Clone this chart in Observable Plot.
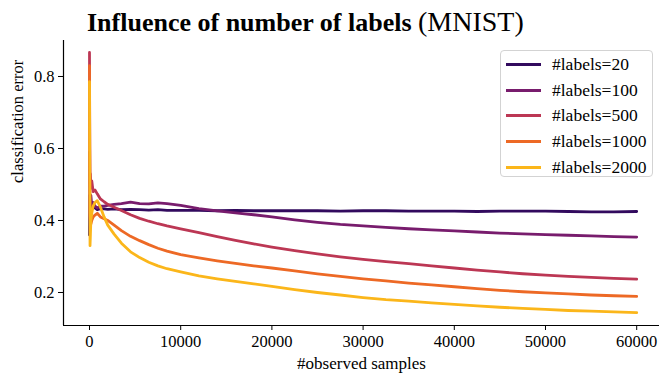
<!DOCTYPE html>
<html><head><meta charset="utf-8">
<script src="https://cdn.jsdelivr.net/npm/d3@7"></script>
<script src="https://cdn.jsdelivr.net/npm/@observablehq/plot@0.6"></script>
<style>
body{margin:0;background:#fff;}
#wrap{position:relative;width:659px;height:378px;overflow:hidden;font-family:"Liberation Serif","Times New Roman",serif;}
#chart svg, #chart svg text{font-family:"Liberation Serif","Times New Roman",serif !important;}
#title{position:absolute;left:87px;top:6px;font-size:26px;white-space:nowrap;color:#000;font-family:"Liberation Serif","Times New Roman",serif;}
#title b{font-weight:bold;}
#title span{font-size:28px;}
#legend{position:absolute;left:500px;top:50px;width:153px;height:127px;border:1px solid #d3d3d3;border-radius:4px;background:rgba(255,255,255,0.8);box-sizing:border-box;}
.item{position:absolute;left:0;height:20px;font-size:17.5px;line-height:20px;white-space:nowrap;font-family:"Liberation Serif","Times New Roman",serif;}
.item span.sw{position:absolute;left:5px;top:9px;width:35px;height:3px;}
.item span.tx{position:absolute;left:51px;top:0;}
</style></head><body>
<div id="wrap"><div id="chart"></div><div id="title"><b>Influence of number of labels</b> <span>(MNIST)</span></div><div id="legend"></div></div>
<script>
const samples = [0, 30, 60, 100, 150, 250, 400, 600, 850, 1200, 1600, 2000, 2700, 3500, 4500, 5500, 6500, 7500, 8500, 10000, 12000, 14000, 16000, 18000, 20000, 22500, 25000, 27500, 30000, 32500, 35000, 37500, 40000, 42500, 45000, 47500, 50000, 52500, 55000, 57500, 60000];
const err20 = [0.36, 0.47, 0.44, 0.43, 0.45, 0.43, 0.44, 0.435, 0.43, 0.433, 0.432, 0.431, 0.432, 0.43, 0.431, 0.43, 0.429, 0.43, 0.428, 0.428, 0.428, 0.427, 0.428, 0.427, 0.427, 0.427, 0.427, 0.426, 0.427, 0.427, 0.426, 0.426, 0.426, 0.425, 0.426, 0.426, 0.426, 0.425, 0.424, 0.424, 0.425];
const err100 = [0.59, 0.42, 0.40, 0.45, 0.47, 0.44, 0.45, 0.44, 0.435, 0.44, 0.44, 0.442, 0.445, 0.447, 0.451, 0.447, 0.446, 0.449, 0.447, 0.442, 0.433, 0.427, 0.421, 0.416, 0.41, 0.402, 0.395, 0.389, 0.385, 0.381, 0.377, 0.374, 0.371, 0.368, 0.365, 0.363, 0.361, 0.359, 0.357, 0.355, 0.354];
const err500 = [0.867, 0.6, 0.50, 0.53, 0.49, 0.51, 0.48, 0.485, 0.474, 0.46, 0.452, 0.445, 0.437, 0.428, 0.416, 0.406, 0.398, 0.391, 0.385, 0.377, 0.366, 0.355, 0.345, 0.335, 0.326, 0.316, 0.307, 0.299, 0.292, 0.286, 0.28, 0.274, 0.268, 0.262, 0.257, 0.252, 0.248, 0.245, 0.242, 0.239, 0.237];
const err1000 = [0.83, 0.6, 0.42, 0.40, 0.39, 0.40, 0.41, 0.415, 0.42, 0.41, 0.405, 0.40, 0.387, 0.372, 0.356, 0.344, 0.333, 0.323, 0.315, 0.305, 0.296, 0.288, 0.281, 0.274, 0.268, 0.26, 0.252, 0.245, 0.238, 0.232, 0.226, 0.221, 0.216, 0.211, 0.206, 0.202, 0.199, 0.196, 0.193, 0.191, 0.189];
const err2000 = [0.786, 0.55, 0.33, 0.36, 0.40, 0.42, 0.44, 0.45, 0.455, 0.437, 0.41, 0.387, 0.362, 0.337, 0.313, 0.297, 0.284, 0.274, 0.266, 0.257, 0.246, 0.238, 0.231, 0.224, 0.217, 0.208, 0.2, 0.193, 0.186, 0.18, 0.176, 0.171, 0.167, 0.163, 0.159, 0.156, 0.153, 0.15, 0.148, 0.146, 0.144];
const labelCounts = [20, 100, 500, 1000, 2000];
const colors = ["#320a5e", "#781c6d", "#bc3754", "#ed6925", "#fbb61a"];
const xTicks = [0, 10000, 20000, 30000, 40000, 50000, 60000];
const yTicks = [0.2, 0.4, 0.6, 0.8];
const xDomain = [-2850, 62500];
const yDomain = [0.1083, 0.9];

const seriesList = [err20, err100, err500, err1000, err2000];
const rows = [];
seriesList.forEach((s, i) => s.forEach((v, j) => rows.push({x: samples[j], err: v, labels: labelCounts[i]})));

const chart = Plot.plot({
  width: 659, height: 378,
  marginTop: 40, marginBottom: 53, marginLeft: 63, marginRight: 0,
  style: {fontFamily: "'Liberation Serif', 'Times New Roman', serif", fontSize: "16.5px", color: "#000", background: "#fff"},
  x: {domain: xDomain},
  y: {domain: yDomain},
  color: {domain: labelCounts, range: colors},
  marks: [
    Plot.axisX({ticks: xTicks, tickSize: 5, tickPadding: 5, tickFormat: d => String(d), label: null, fontSize: 16.5}),
    Plot.axisY({ticks: yTicks, tickSize: 5, tickPadding: 4, tickFormat: d => d.toFixed(1), label: null, fontSize: 16.5}),
    Plot.ruleX([xDomain[0]], {stroke: "#000", strokeWidth: 1.2}),
    Plot.ruleY([yDomain[0]], {stroke: "#000", strokeWidth: 1.2}),
    Plot.line(rows, {x: "x", y: "err", z: "labels", stroke: "labels", strokeWidth: 2.8, strokeLinejoin: "round"}),
    Plot.text(["#observed samples"], {frameAnchor: "bottom", dy: 43, fontSize: 17, fill: "#000"}),
    Plot.text(["classification error"], {frameAnchor: "left", dx: -46, rotate: -90, fontSize: 16.5, fill: "#000"})
  ]
});
document.getElementById("chart").appendChild(chart);

const legend = document.getElementById("legend");
labelCounts.forEach((n, i) => {
  const it = document.createElement("div");
  it.className = "item";
  it.style.top = (3 + i * 25.7) + "px";
  it.innerHTML = `<span class="sw" style="background:${colors[i]}"></span><span class="tx">#labels=${n}</span>`;
  legend.appendChild(it);
});
</script>
</body></html>
